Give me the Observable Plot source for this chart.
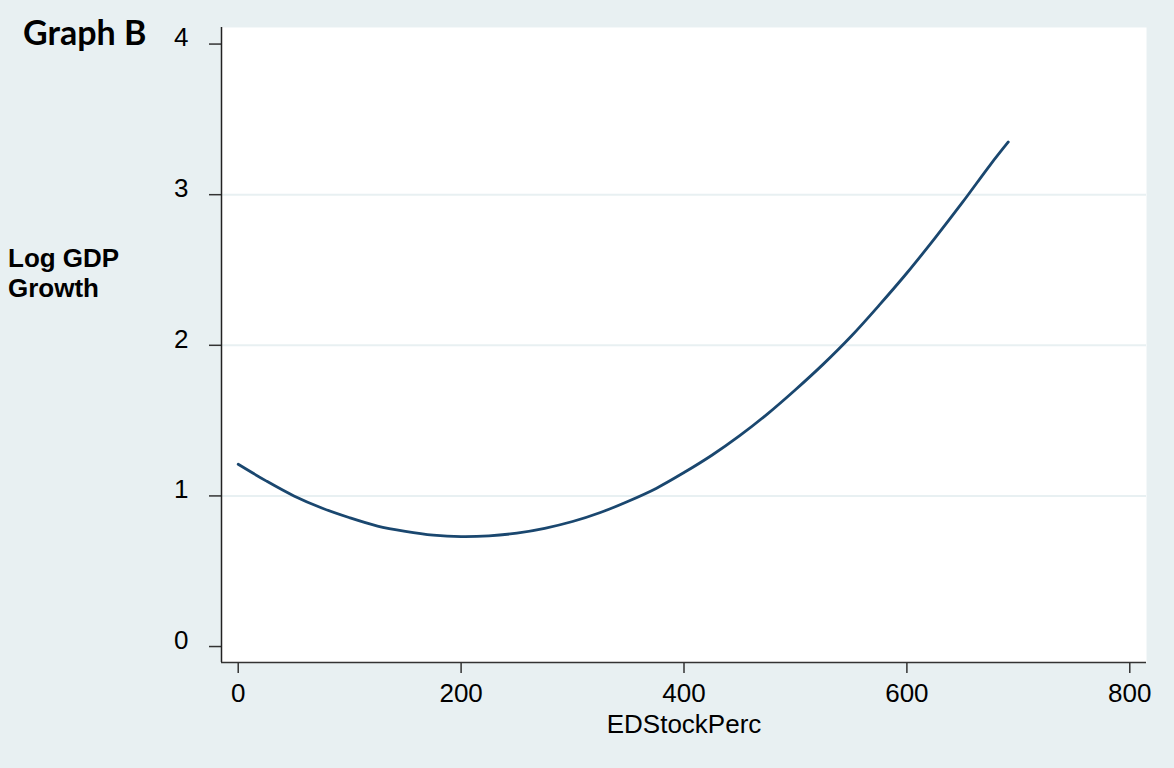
<!DOCTYPE html>
<html>
<head>
<meta charset="utf-8">
<script src="https://cdn.jsdelivr.net/npm/d3@7"></script>
<script src="https://cdn.jsdelivr.net/npm/@observablehq/plot@0.6"></script>
<style>
  html, body { margin: 0; padding: 0; background: #e8f0f2; }
  #wrap { position: relative; width: 1174px; height: 768px; background: #e8f0f2; overflow: hidden; }
  #title { position: absolute; left: 23px; top: 15px; font-family: Lato, "Open Sans", sans-serif; font-weight: 700; font-size: 34px; line-height: 34px; color: #000; white-space: nowrap; }
  #ylab { position: absolute; left: 8px; top: 243px; font-family: "Liberation Sans", Arial, sans-serif; font-weight: 700; font-size: 26px; line-height: 30px; color: #000; }
  #chart { position: absolute; left: 0; top: 0; }
</style>
</head>
<body>
<div id="wrap">
  <div id="chart"></div>
  <div id="title">Graph B</div>
  <div id="ylab">Log GDP<br>Growth</div>
</div>
<script>
// Fitted curve
const edStock = [0, 25, 50, 75, 100, 125, 150, 175, 200, 225, 250, 275, 300, 325, 350, 375, 400, 425, 450, 475, 500, 525, 550, 575, 600, 625, 650, 675, 691];
const logGdpGrowth = [1.21, 1.10, 1.00, 0.92, 0.855, 0.80, 0.765, 0.74, 0.73, 0.735, 0.753, 0.785, 0.83, 0.89, 0.965, 1.05, 1.155, 1.27, 1.40, 1.545, 1.705, 1.875, 2.06, 2.265, 2.48, 2.71, 2.95, 3.20, 3.35];

const xTicks = [0, 200, 400, 600, 800];
const yTicks = [0, 1, 2, 3, 4];
const gridValues = [1, 2, 3];
const xDomain = [-15, 815];
const yDomain = [-0.106, 4.11];

const data = edStock.map((x, i) => ({x, y: logGdpGrowth[i]}));

const chart = Plot.plot({
  width: 1174,
  height: 768,
  marginLeft: 221,
  marginRight: 28,
  marginTop: 27,
  marginBottom: 106,
  style: {fontFamily: '"Liberation Sans", Arial, sans-serif', background: "transparent", color: "#000"},
  x: {domain: xDomain},
  y: {domain: yDomain},
  marks: [
    Plot.frame({fill: "white", stroke: null}),
    Plot.ruleY(gridValues, {stroke: "#e8f0f2", strokeWidth: 2}),
    Plot.axisX({ticks: xTicks, tickSize: 11, tickPadding: 10, fontSize: 26, label: null, stroke: "#333", strokeWidth: 1.5, tickFormat: d => String(d)}),
    Plot.axisY({ticks: yTicks, tickSize: 12, fontSize: 26, label: null, stroke: "#333", strokeWidth: 1.5, tickFormat: () => ""}),
    Plot.axisY({ticks: yTicks, tickSize: 0, tickPadding: 33, fontSize: 26, label: null, dy: -6, tickFormat: d => String(d)}),
    Plot.ruleX([xDomain[0]], {stroke: "#222", strokeWidth: 1.5}),
    Plot.ruleY([yDomain[0]], {stroke: "#333", strokeWidth: 1.5}),
    Plot.text(["EDStockPerc"], {frameAnchor: "bottom", dy: 70, fontSize: 26, fill: "#000"}),
    Plot.line(data, {x: "x", y: "y", stroke: "#1a476f", strokeWidth: 2.8, curve: "catmull-rom"})
  ]
});
document.getElementById("chart").appendChild(chart);
</script>
</body>
</html>
